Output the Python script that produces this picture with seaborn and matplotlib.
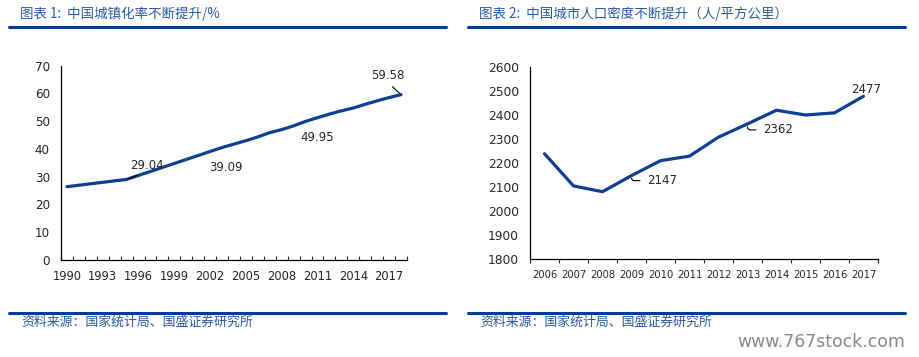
import numpy as np
import pandas as pd
import seaborn as sns
import matplotlib.pyplot as plt
from matplotlib.lines import Line2D

# 图表1 城镇化率 (%)
years_l = list(range(1990, 2019))
urban_rate = [26.41, 26.94, 27.46, 27.99, 28.51, 29.04, 30.48, 31.91, 33.35, 34.78,
              36.22, 37.66, 39.09, 40.53, 41.76, 42.99, 44.34, 45.89, 46.99, 48.34,
              49.95, 51.27, 52.57, 53.73, 54.77, 56.10, 57.35, 58.52, 59.58]
xlabels_l = list(range(1990, 2018, 3))

# 图表2 城市人口密度 (人/平方公里)
years_r = list(range(2006, 2018))
density = [2238, 2104, 2080, 2147, 2209, 2228, 2307, 2362, 2419, 2399, 2408, 2477]

title_l = "图表 1:  中国城镇化率不断提升/%"
title_r = "图表 2:  中国城市人口密度不断提升（人/平方公里）"
source = "资料来源：国家统计局、国盛证券研究所"

sns.set_style("ticks")
plt.rcParams['font.family'] = ['DejaVu Sans', 'Noto Sans CJK SC']

W, H = 920, 357
fig = plt.figure(figsize=(W / 100, H / 100), dpi=100)
line_c = "#0d3f92"
rule_c = "#003d96"
cjk = ['Noto Sans CJK SC', 'DejaVu Sans']


def px_axes(x0, x1, ytop, ybot):
    return fig.add_axes([x0 / W, 1 - ybot / H, (x1 - x0) / W, (ybot - ytop) / H])


# ---- left chart
df_l = pd.DataFrame({"year": years_l, "rate": urban_rate})
ax1 = px_axes(61, 407, 65.7, 260)
sns.lineplot(data=df_l, x="year", y="rate", ax=ax1, color=line_c, linewidth=2.3)
ax1.set_xlim(years_l[0] - 0.5, years_l[-1] + 0.5)
ax1.set_ylim(0, 70)
ax1.set_yticks(range(0, 71, 10))
ax1.set_xticks(xlabels_l)
ax1.set_xticks(np.arange(years_l[0] - 0.5, years_l[-1] + 1, 1), minor=True)
ax1.tick_params(axis="x", which="major", length=0, labelsize=8.3, pad=7)
ax1.tick_params(axis="x", which="minor", direction="in", length=3, width=0.8)
ax1.tick_params(axis="y", length=0, labelsize=8.6, pad=8)
ax1.set_xlabel("")
ax1.set_ylabel("")

lead = dict(arrowstyle="-", color="black", lw=0.8, relpos=(0.5, 0.0), shrinkA=1, shrinkB=1)
ax1.annotate("29.04", xy=(1995, 29.04), xytext=(1996.7, 34.2), ha="center", va="center",
             fontsize=8.5, arrowprops=lead)
ax1.text(2003.3, 33.4, "39.09", ha="center", va="center", fontsize=8.5)
ax1.text(2011.0, 44.1, "49.95", ha="center", va="center", fontsize=8.5)
ax1.annotate("59.58", xy=(2018, 59.58), xytext=(2016.9, 66.3), ha="center", va="center",
             fontsize=8.5, arrowprops=lead)

# ---- right chart
df_r = pd.DataFrame({"year": years_r, "density": density})
ax2 = px_axes(530, 878, 66.7, 259)
sns.lineplot(data=df_r, x="year", y="density", ax=ax2, color=line_c, linewidth=2.3)
ax2.set_xlim(years_r[0] - 0.5, years_r[-1] + 0.5)
ax2.set_ylim(1800, 2600)
ax2.set_yticks(range(1800, 2601, 100))
ax2.set_xticks(years_r)
ax2.set_xticks(np.arange(years_r[0] - 0.5, years_r[-1] + 1, 1), minor=True)
ax2.tick_params(axis="x", which="major", length=0, labelsize=7.2, pad=8)
ax2.tick_params(axis="x", which="minor", direction="out", length=3, width=0.8)
ax2.tick_params(axis="y", length=0, labelsize=8.8, pad=8)
ax2.set_xlabel("")
ax2.set_ylabel("")

curl = dict(arrowstyle="-", color="black", lw=0.8, relpos=(0.0, 0.5), shrinkA=3, shrinkB=2,
            connectionstyle="angle,angleA=0,angleB=90,rad=3")
ax2.annotate("2147", xy=(2009, 2147), xytext=(2009.55, 2126), ha="left", va="center",
             fontsize=8.5, arrowprops=curl)
ax2.annotate("2362", xy=(2013, 2362), xytext=(2013.55, 2337), ha="left", va="center",
             fontsize=8.5, arrowprops=curl)
ax2.text(2017.1, 2506, "2477", ha="center", va="center", fontsize=8.5)

for ax in (ax1, ax2):
    sns.despine(ax=ax)
    for s in ("left", "bottom"):
        ax.spines[s].set_linewidth(0.9)
        ax.spines[s].set_color("black")

# ---- titles, rules, source
for x0, x1, title in ((9, 446, title_l), (468, 905, title_r)):
    fig.text((x0 + 11) / W, 1 - 14 / H, title, color="#2a5aa8", fontsize=9.7,
             style="italic", family=cjk, ha="left", va="center")
    fig.add_artist(Line2D([x0 / W, x1 / W], [1 - 26.7 / H] * 2, color=rule_c, lw=2.2))
    fig.add_artist(Line2D([x0 / W, x1 / W], [1 - 312.7 / H] * 2, color=rule_c, lw=2.2))
    fig.text((x0 + 12) / W, 1 - 322 / H, source, color="#2a5aa8", fontsize=9.3,
             style="italic", family=cjk, ha="left", va="center")

fig.text(905 / W, 1 - 342 / H, "www.767stock.com", color="#8a8a8a", fontsize=12.4,
         ha="right", va="center")

fig.savefig("out.png", dpi=100)
